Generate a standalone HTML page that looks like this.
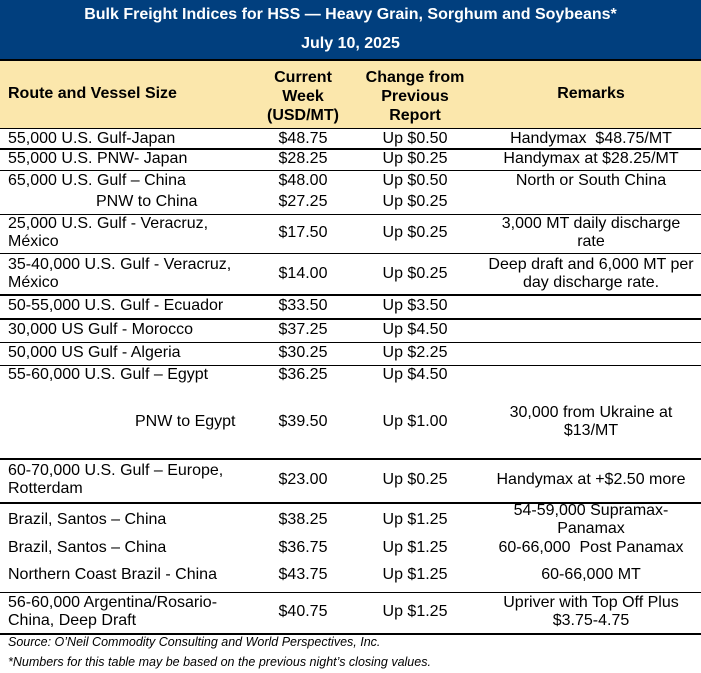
<!DOCTYPE html>
<html><head><meta charset="utf-8"><style>
body{margin:0;width:701px;height:673px;background:#fff;position:relative;overflow:hidden;font-family:"Liberation Sans",Arial,sans-serif;color:#000}
.a{position:absolute;font-size:16px;line-height:18px;white-space:nowrap}
.c{text-align:center}
.l{position:absolute;left:0;width:701px;height:1.5px;background:#000}
.b{font-weight:bold}
</style></head><body>
<div style="position:absolute;left:0;top:0;width:701px;height:59px;background:#013f7e"></div>
<div class="a c b" style="left:0;width:701px;top:6px;color:#fff">Bulk Freight Indices for HSS — Heavy Grain, Sorghum and Soybeans*</div>
<div class="a c b" style="left:0;width:701px;top:35px;color:#fff">July 10, 2025</div>
<div style="position:absolute;left:0;top:60px;width:701px;height:68px;background:#fbe7ac"></div>
<div class="l" style="top:59px"></div>
<div class="a b" style="left:8px;top:85px">Route and Vessel Size</div>
<div class="a c b" style="left:253px;width:100px;top:68px;line-height:19px">Current<br>Week<br>(USD/MT)</div>
<div class="a c b" style="left:355px;width:120px;top:68px;line-height:19px">Change from<br>Previous<br>Report</div>
<div class="a c b" style="left:480px;width:222px;top:85px">Remarks</div>
<div class="l" style="top:127.5px"></div>

<div class="a" style="left:8px;top:130px">55,000 U.S. Gulf-Japan</div>
<div class="a c" style="left:253px;width:100px;top:130px">$48.75</div>
<div class="a c" style="left:355px;width:120px;top:130px">Up $0.50</div>
<div class="a c" style="left:480px;width:222px;top:130px">Handymax&nbsp; $48.75/MT</div>
<div class="l" style="top:148px"></div>

<div class="a" style="left:8px;top:150px">55,000 U.S. PNW- Japan</div>
<div class="a c" style="left:253px;width:100px;top:150px">$28.25</div>
<div class="a c" style="left:355px;width:120px;top:150px">Up $0.25</div>
<div class="a c" style="left:480px;width:222px;top:150px">Handymax at $28.25/MT</div>
<div class="l" style="top:169.5px"></div>

<div class="a" style="left:8px;top:172px">65,000 U.S. Gulf – China</div>
<div class="a c" style="left:253px;width:100px;top:172px">$48.00</div>
<div class="a c" style="left:355px;width:120px;top:172px">Up $0.50</div>
<div class="a c" style="left:480px;width:222px;top:172px">North or South China</div>
<div class="a" style="left:96px;top:193px">PNW to China</div>
<div class="a c" style="left:253px;width:100px;top:193px">$27.25</div>
<div class="a c" style="left:355px;width:120px;top:193px">Up $0.25</div>
<div class="l" style="top:213.5px"></div>

<div class="a" style="left:8px;top:215px">25,000 U.S. Gulf - Veracruz,<br>México</div>
<div class="a c" style="left:253px;width:100px;top:224px">$17.50</div>
<div class="a c" style="left:355px;width:120px;top:224px">Up $0.25</div>
<div class="a c" style="left:480px;width:222px;top:215px">3,000 MT daily discharge<br>rate</div>
<div class="l" style="top:252.5px"></div>

<div class="a" style="left:8px;top:256px">35-40,000 U.S. Gulf - Veracruz,<br>México</div>
<div class="a c" style="left:253px;width:100px;top:265px">$14.00</div>
<div class="a c" style="left:355px;width:120px;top:265px">Up $0.25</div>
<div class="a c" style="left:480px;width:222px;top:256px">Deep draft and 6,000 MT per<br>day discharge rate.</div>
<div class="l" style="top:294px"></div>

<div class="a" style="left:8px;top:297px">50-55,000 U.S. Gulf - Ecuador</div>
<div class="a c" style="left:253px;width:100px;top:297px">$33.50</div>
<div class="a c" style="left:355px;width:120px;top:297px">Up $3.50</div>
<div class="l" style="top:318px"></div>

<div class="a" style="left:8px;top:321px">30,000 US Gulf - Morocco</div>
<div class="a c" style="left:253px;width:100px;top:321px">$37.25</div>
<div class="a c" style="left:355px;width:120px;top:321px">Up $4.50</div>
<div class="l" style="top:341.5px"></div>

<div class="a" style="left:8px;top:344px">50,000 US Gulf - Algeria</div>
<div class="a c" style="left:253px;width:100px;top:344px">$30.25</div>
<div class="a c" style="left:355px;width:120px;top:344px">Up $2.25</div>
<div class="l" style="top:364.5px"></div>

<div class="a" style="left:8px;top:366px">55-60,000 U.S. Gulf – Egypt</div>
<div class="a c" style="left:253px;width:100px;top:366px">$36.25</div>
<div class="a c" style="left:355px;width:120px;top:366px">Up $4.50</div>
<div class="a" style="left:135px;top:413px">PNW to Egypt</div>
<div class="a c" style="left:253px;width:100px;top:413px">$39.50</div>
<div class="a c" style="left:355px;width:120px;top:413px">Up $1.00</div>
<div class="a c" style="left:480px;width:222px;top:404px">30,000 from Ukraine at<br>$13/MT</div>
<div class="l" style="top:458px"></div>

<div class="a" style="left:8px;top:462px">60-70,000 U.S. Gulf – Europe,<br>Rotterdam</div>
<div class="a c" style="left:253px;width:100px;top:471px">$23.00</div>
<div class="a c" style="left:355px;width:120px;top:471px">Up $0.25</div>
<div class="a c" style="left:480px;width:222px;top:471px">Handymax at +$2.50 more</div>
<div class="l" style="top:502px"></div>

<div class="a" style="left:8px;top:511px">Brazil, Santos – China</div>
<div class="a c" style="left:253px;width:100px;top:511px">$38.25</div>
<div class="a c" style="left:355px;width:120px;top:511px">Up $1.25</div>
<div class="a c" style="left:480px;width:222px;top:502px">54-59,000 Supramax-<br>Panamax</div>
<div class="a" style="left:8px;top:539px">Brazil, Santos – China</div>
<div class="a c" style="left:253px;width:100px;top:539px">$36.75</div>
<div class="a c" style="left:355px;width:120px;top:539px">Up $1.25</div>
<div class="a c" style="left:480px;width:222px;top:539px">60-66,000&nbsp; Post Panamax</div>
<div class="a" style="left:8px;top:566px">Northern Coast Brazil - China</div>
<div class="a c" style="left:253px;width:100px;top:566px">$43.75</div>
<div class="a c" style="left:355px;width:120px;top:566px">Up $1.25</div>
<div class="a c" style="left:480px;width:222px;top:566px">60-66,000 MT</div>
<div class="l" style="top:591.5px"></div>

<div class="a" style="left:8px;top:594px">56-60,000 Argentina/Rosario-<br>China, Deep Draft</div>
<div class="a c" style="left:253px;width:100px;top:603px">$40.75</div>
<div class="a c" style="left:355px;width:120px;top:603px">Up $1.25</div>
<div class="a c" style="left:480px;width:222px;top:594px">Upriver with Top Off Plus<br>$3.75-4.75</div>
<div class="l" style="top:633px"></div>

<div class="a" style="left:8px;top:635px;font-size:12.5px;line-height:15px;font-style:italic">Source: O’Neil Commodity Consulting and World Perspectives, Inc.</div>
<div class="a" style="left:8px;top:655px;font-size:12.5px;line-height:15px;font-style:italic">*Numbers for this table may be based on the previous night’s closing values.</div>
</body></html>
